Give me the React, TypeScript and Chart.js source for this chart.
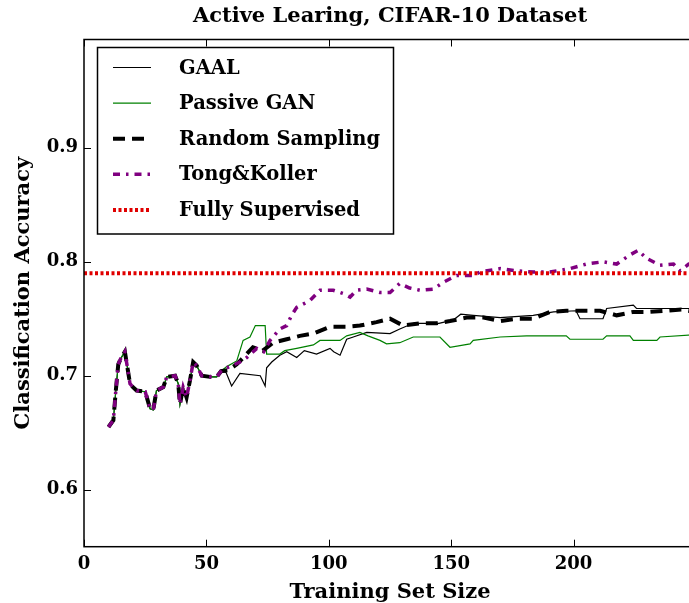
import React, { useEffect, useRef } from 'react';
import { Chart, registerables } from 'chart.js';

Chart.register(...registerables);

const TITLE = 'Active Learing, CIFAR-10 Dataset';
const X_TITLE = 'Training Set Size';
const Y_TITLE = 'Classification Accuracy';
const xTicks = [0, 50, 100, 150, 200];
const yTicks = [0.6, 0.7, 0.8, 0.9];
const seriesNames = ['GAAL', 'Passive GAN', 'Random Sampling', 'Tong&Koller', 'Fully Supervised'];

// shared early part (all active methods coincide)
const sharedX = [10, 12, 13, 14, 15, 16.7, 18.8, 20, 21.5, 25, 27, 28.3, 29.6, 32.4, 33.8, 37.2, 38.5, 39.2, 40.5, 41.9, 43.3, 44.6, 46, 48.1, 51.5, 54.2, 56];
const sharedY = [0.655, 0.661, 0.687, 0.71, 0.715, 0.721, 0.693, 0.69, 0.687, 0.686, 0.671, 0.67, 0.687, 0.69, 0.699, 0.7, 0.693, 0.675, 0.69, 0.681, 0.696, 0.712, 0.709, 0.7, 0.699, 0.699, 0.704];

const gaalX = [58, 60.3, 63.7, 72, 74, 74.6, 76.7, 80, 82.8, 86.9, 90, 95, 100.5, 102, 104.6, 107.3, 110, 115.5, 125, 129, 134.5, 145, 150.9, 153.9, 159, 170, 183.5, 191.8, 201, 202.6, 212, 213.5, 224.4, 225.7, 250];
const gaalY = [0.703, 0.691, 0.702, 0.7, 0.691, 0.707, 0.712, 0.718, 0.721, 0.716, 0.722, 0.719, 0.724, 0.721, 0.718, 0.732, 0.734, 0.738, 0.737, 0.741, 0.746, 0.746, 0.749, 0.754, 0.753, 0.751, 0.753, 0.756, 0.757, 0.75, 0.75, 0.759, 0.762, 0.759, 0.759];

const passiveX = [58.3, 62.4, 65, 67.8, 70, 74, 74.6, 80, 82, 86.9, 93.7, 96.4, 104.6, 107.3, 112.7, 116, 120.9, 123.6, 129, 134.5, 145.4, 149.5, 157.7, 159, 170, 180.8, 197, 198.5, 212, 213.5, 223, 224.4, 234, 235.3, 250];
const passiveY = [0.708, 0.713, 0.731, 0.734, 0.744, 0.744, 0.719, 0.719, 0.722, 0.724, 0.727, 0.731, 0.731, 0.735, 0.738, 0.735, 0.731, 0.728, 0.729, 0.734, 0.734, 0.725, 0.728, 0.731, 0.734, 0.735, 0.735, 0.732, 0.732, 0.735, 0.735, 0.731, 0.731, 0.734, 0.736];

const randomX = [59, 62.4, 66, 69, 73, 77.3, 82.8, 88.2, 93.7, 100.5, 107.3, 112.7, 119.5, 125, 130.4, 137.3, 144, 149.5, 156.3, 163.2, 170, 176.8, 183.5, 190.3, 197, 204, 210.8, 217.6, 224.4, 231, 238, 244, 250];
const randomY = [0.705, 0.71, 0.718, 0.725, 0.722, 0.729, 0.732, 0.735, 0.737, 0.743, 0.743, 0.744, 0.747, 0.75, 0.744, 0.746, 0.746, 0.748, 0.751, 0.751, 0.748, 0.75, 0.75, 0.756, 0.757, 0.757, 0.757, 0.753, 0.756, 0.756, 0.757, 0.758, 0.756];

const tongX = [57, 59.6, 63.7, 66.5, 70.6, 73.4, 76, 80, 82.8, 84.8, 86.9, 92.3, 96.4, 101.8, 106, 108.7, 111.4, 115.5, 120.9, 125, 129, 133, 137.3, 142.7, 146.8, 152.2, 159, 161.8, 170, 176.8, 183.5, 190.3, 198.5, 205.3, 212, 217.6, 223, 226.4, 229.8, 235.3, 240.8, 243.5, 247, 250];
const tongY = [0.706, 0.708, 0.712, 0.716, 0.724, 0.721, 0.731, 0.741, 0.744, 0.753, 0.76, 0.766, 0.775, 0.775, 0.772, 0.769, 0.775, 0.776, 0.773, 0.773, 0.781, 0.777, 0.775, 0.776, 0.782, 0.788, 0.788, 0.791, 0.794, 0.792, 0.791, 0.791, 0.794, 0.798, 0.8, 0.798, 0.806, 0.81, 0.803, 0.797, 0.798, 0.792, 0.798, 0.797];

const fullX = [0, 250];
const fullY = [0.79, 0.79];

const FONT = '"DejaVu Serif", serif';

function zip(xs: number[], ys: number[]) {
  return xs.map((x, i) => ({ x, y: ys[i] }));
}

const framePlugin = {
  id: 'frameTicksLegend',
  afterDraw(chart: any) {
    const { ctx, chartArea } = chart;
    const { left, top, right, bottom } = chartArea;
    const xs = chart.scales.x;
    const ys = chart.scales.y;
    ctx.save();
    ctx.strokeStyle = '#000';
    ctx.lineWidth = 1.5;
    ctx.setLineDash([]);
    ctx.strokeRect(left, top, right - left, bottom - top);
    ctx.lineWidth = 1;
    ctx.beginPath();
    for (const v of xTicks) {
      const px = Math.round(xs.getPixelForValue(v)) + 0.5;
      ctx.moveTo(px, bottom);
      ctx.lineTo(px, bottom - 7);
      ctx.moveTo(px, top);
      ctx.lineTo(px, top + 7);
    }
    for (const v of yTicks) {
      const py = Math.round(ys.getPixelForValue(v)) + 0.5;
      ctx.moveTo(left, py);
      ctx.lineTo(left + 7, py);
      ctx.moveTo(right, py);
      ctx.lineTo(right - 7, py);
    }
    ctx.stroke();

    // legend
    const bx = 97.5, by = 47.5, bw = 296, bh = 186.5;
    ctx.fillStyle = '#fff';
    ctx.fillRect(bx, by, bw, bh);
    ctx.lineWidth = 1.5;
    ctx.strokeStyle = '#000';
    ctx.strokeRect(bx, by, bw, bh);
    const ds = chart.data.datasets;
    ctx.font = `bold 19.5px ${FONT}`;
    ctx.textBaseline = 'middle';
    ctx.textAlign = 'left';
    for (let i = 0; i < ds.length; i++) {
      const ry = 67.5 + i * 35.6;
      ctx.save();
      ctx.strokeStyle = ds[i].borderColor;
      ctx.lineWidth = ds[i].borderWidth;
      ctx.setLineDash(ds[i].borderDash || []);
      ctx.beginPath();
      ctx.moveTo(113, ry);
      ctx.lineTo(151, ry);
      ctx.stroke();
      ctx.restore();
      ctx.fillStyle = '#000';
      ctx.fillText(ds[i].label, 179, ry + 1);
    }
    ctx.restore();
  },
};

export default function App() {
  const ref = useRef<HTMLCanvasElement | null>(null);
  useEffect(() => {
    if (!ref.current) return;
    const chart = new Chart(ref.current, {
      type: 'line',
      data: {
        datasets: [
          {
            label: seriesNames[0],
            data: zip(sharedX.concat(gaalX), sharedY.concat(gaalY)),
            borderColor: '#000000',
            borderWidth: 1.2,
            order: 5,
          },
          {
            label: seriesNames[1],
            data: zip(sharedX.concat(passiveX), sharedY.concat(passiveY)),
            borderColor: '#008000',
            borderWidth: 1.2,
            order: 4,
          },
          {
            label: seriesNames[2],
            data: zip(sharedX.concat(randomX), sharedY.concat(randomY)),
            borderColor: '#000000',
            borderWidth: 4,
            borderDash: [12, 7],
            order: 3,
          },
          {
            label: seriesNames[3],
            data: zip(sharedX.concat(tongX), sharedY.concat(tongY)),
            borderColor: '#800080',
            borderWidth: 3.5,
            borderDash: [7, 6, 2.5, 6],
            order: 2,
          },
          {
            label: seriesNames[4],
            data: zip(fullX, fullY),
            borderColor: '#e00000',
            borderWidth: 4,
            borderDash: [3, 2.5],
            order: 1,
          },
        ],
      },
      options: {
        animation: false,
        responsive: false,
        devicePixelRatio: 1,
        elements: { point: { radius: 0 }, line: { tension: 0, borderCapStyle: 'butt' } },
        layout: { padding: { left: 0, right: 14, top: 0, bottom: 0 } },
        plugins: {
          legend: { display: false },
          tooltip: { enabled: false },
          title: {
            display: true,
            text: TITLE,
            fullSize: false,
            color: '#000',
            font: { family: FONT, size: 21, weight: 'bold', lineHeight: 1.2 },
            padding: { top: 4, bottom: 10.3 },
          },
        },
        scales: {
          x: {
            type: 'linear',
            min: 0,
            max: 250,
            grid: { display: false, drawTicks: false },
            border: { display: false },
            ticks: {
              color: '#000',
              padding: 7,
              font: { family: FONT, size: 18, weight: 'bold' },
            },
            afterBuildTicks: (s: any) => {
              s.ticks = xTicks.map((v) => ({ value: v }));
            },
            afterFit: (s: any) => {
              s.height = 73.3;
            },
            title: {
              display: true,
              text: X_TITLE,
              color: '#000',
              font: { family: FONT, size: 21, weight: 'bold' },
              padding: { top: 0, bottom: 15 },
            },
          },
          y: {
            type: 'linear',
            min: 0.55,
            max: 0.995,
            grid: { display: false, drawTicks: false },
            border: { display: false },
            ticks: {
              color: '#000',
              padding: 6,
              font: { family: FONT, size: 18, weight: 'bold' },
              callback: (v: any) => Number(v).toFixed(1),
            },
            afterBuildTicks: (s: any) => {
              s.ticks = yTicks.map((v) => ({ value: v }));
            },
            afterFit: (s: any) => {
              s.width = 84;
            },
            title: {
              display: true,
              text: Y_TITLE,
              color: '#000',
              font: { family: FONT, size: 21, weight: 'bold' },
              padding: { top: 11, bottom: 0 },
            },
          },
        },
      },
      plugins: [framePlugin],
    } as any);
    return () => chart.destroy();
  }, []);
  return (
    <div style={{ position: 'absolute', left: 0, top: 0, width: 689, height: 603, overflow: 'hidden', background: '#fff' }}>
      <canvas ref={ref} width={710} height={620} style={{ display: 'block', width: 710, height: 620 }} />
    </div>
  );
}
